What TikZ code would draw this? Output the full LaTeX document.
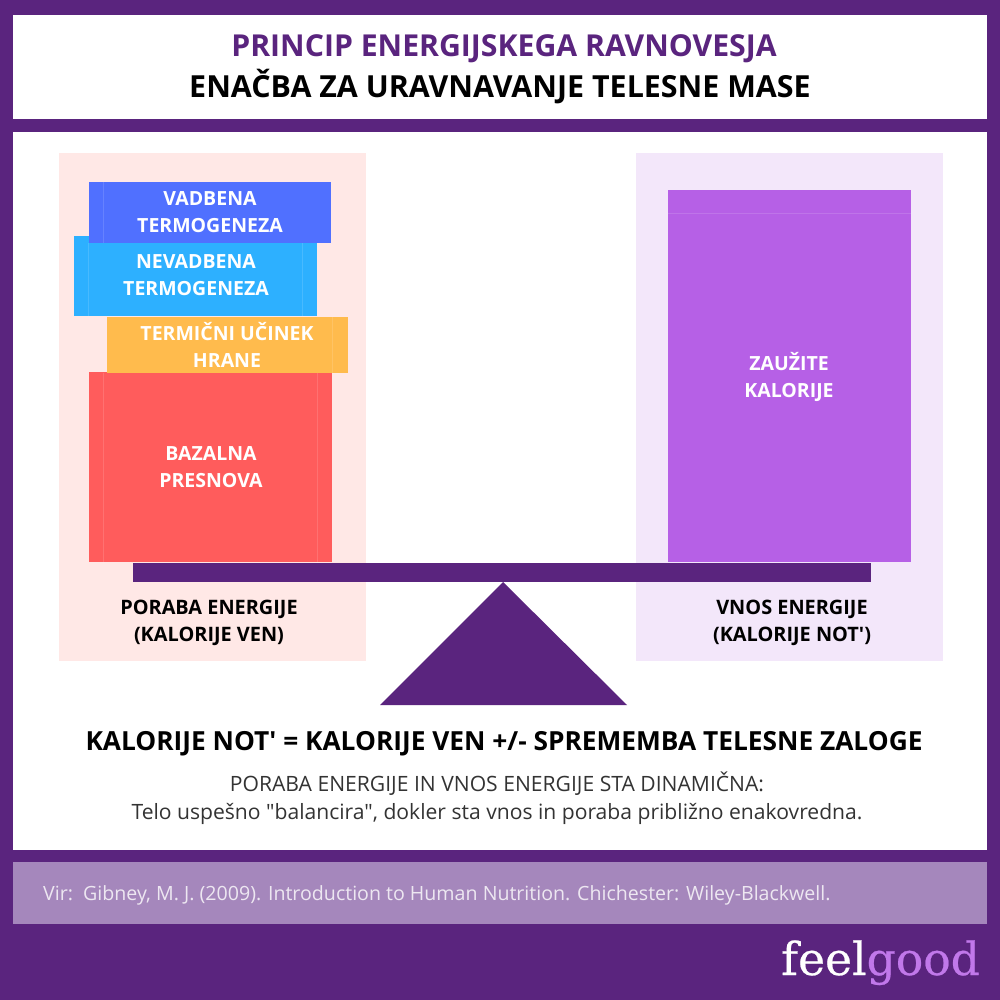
\documentclass[tikz,border=0pt]{standalone}
\usepackage{fontspec}
\setmainfont{Open Sans}[Ligatures=TeXOff]
\newfontfamily\logofont[FakeBold=0.5]{DejaVu Serif}
\definecolor{deep}{HTML}{5A247E}
\definecolor{soft}{HTML}{A587BC}
\definecolor{lilac}{HTML}{B660E6}
\definecolor{pinkbg}{HTML}{FFE8E6}
\definecolor{lilacbg}{HTML}{F3E7FA}
\definecolor{cblue}{HTML}{5070FF}
\definecolor{csky}{HTML}{2DB0FF}
\definecolor{corange}{HTML}{FFBB4D}
\definecolor{cred}{HTML}{FF5C5C}
\newcommand{\fz}[2][27]{\fontsize{#2}{#1}\selectfont}
\tikzset{
  x=1pt,y=-1pt,
  lab/.style={text=white,font=\fz{19.5}\bfseries,align=center,inner sep=0pt,anchor=base},
  captxt/.style={text=black,font=\fz{19.9}\bfseries,align=center,inner sep=0pt,anchor=base},
  ttl/.style={font=\fz{30.2}\bfseries,inner sep=0pt,anchor=base},
  body/.style={text=black!80,font=\fz{21.1},inner sep=0pt,anchor=base},
  seam/.style={white,opacity=0.13,line width=1pt},
}
\begin{document}
\begin{tikzpicture}
\useasboundingbox (0,0) rectangle (1000,1000);
\fill[deep] (0,0) rectangle (1000,1000);
\fill[white] (13,15) rectangle (987,119);
\fill[white] (13,132) rectangle (987,850);
\fill[soft] (13,862) rectangle (987,924);
\fill[pinkbg] (59,153) rectangle (366,661);
\fill[lilacbg] (636,153) rectangle (943,661);
\fill[lilac] (668,190) rectangle (911,562);
\fill[cred] (89,372) rectangle (332,562);
\fill[corange] (107,317) rectangle (348,373);
\fill[csky] (74,236) rectangle (317,316);
\fill[cblue] (89,182) rectangle (331,243);
\draw[seam] (668,214) -- (911,214);
\draw[seam] (103,182) -- (103,243);
\draw[seam] (88,243) -- (88,316) (302,243) -- (302,316);
\draw[seam] (332,317) -- (332,373);
\draw[seam] (103,373) -- (103,562) (317,373) -- (317,562);
\fill[deep] (133,563) rectangle (871,582);
\fill[deep] (503,582) -- (627,705) -- (380,705) -- cycle;
\node[ttl,text=deep] (t1) at (504,57) {PRINCIP ENERGIJSKEGA RAVNOVESJA};
\node[ttl,text=black,font=\fz{30.4}\bfseries] (t2) at (500,98) {ENAČBA ZA URAVNAVANJE TELESNE MASE};
\node[lab] (n1) at (210,233) {VADBENA\\TERMOGENEZA};
\node[lab] (n2) at (196,295) {NEVADBENA\\TERMOGENEZA};
\node[lab] (n3) at (227,367) {TERMIČNI UČINEK\\HRANE};
\node[lab] (n4) at (211,487) {BAZALNA\\PRESNOVA};
\node[lab] (n5) at (789,397) {ZAUŽITE\\KALORIJE};
\node[captxt] (c1) at (209,641) {PORABA ENERGIJE\\(KALORIJE VEN)};
\node[captxt] (c2) at (792,641) {VNOS ENERGIJE\\(KALORIJE NOT')};
\node[ttl,text=black,font=\fz{26.3}\bfseries] (eq) at (504,750) {KALORIJE NOT' = KALORIJE VEN +/- SPREMEMBA TELESNE ZALOGE};
\node[body] (b1) at (497,791) {PORABA ENERGIJE IN VNOS ENERGIJE STA DINAMIČNA:};
\node[body] (b2) at (497,819) {Telo uspešno "balancira", dokler sta vnos in poraba približno enakovredna.};
\node[inner sep=0pt,anchor=base west,text=white!80!soft,font=\fz{19.6}] (src) at (43,900) {Vir:\ \ Gibney, M. J. (2009). Introduction to Human Nutrition. Chichester: Wiley-Blackwell.};
\node[inner sep=0pt,anchor=base west,font=\logofont\fz{45.6}] (logo) at (781,975) {\textcolor{white}{feel}\textcolor{lilac!85!white}{good}};
\end{tikzpicture}
\end{document}
